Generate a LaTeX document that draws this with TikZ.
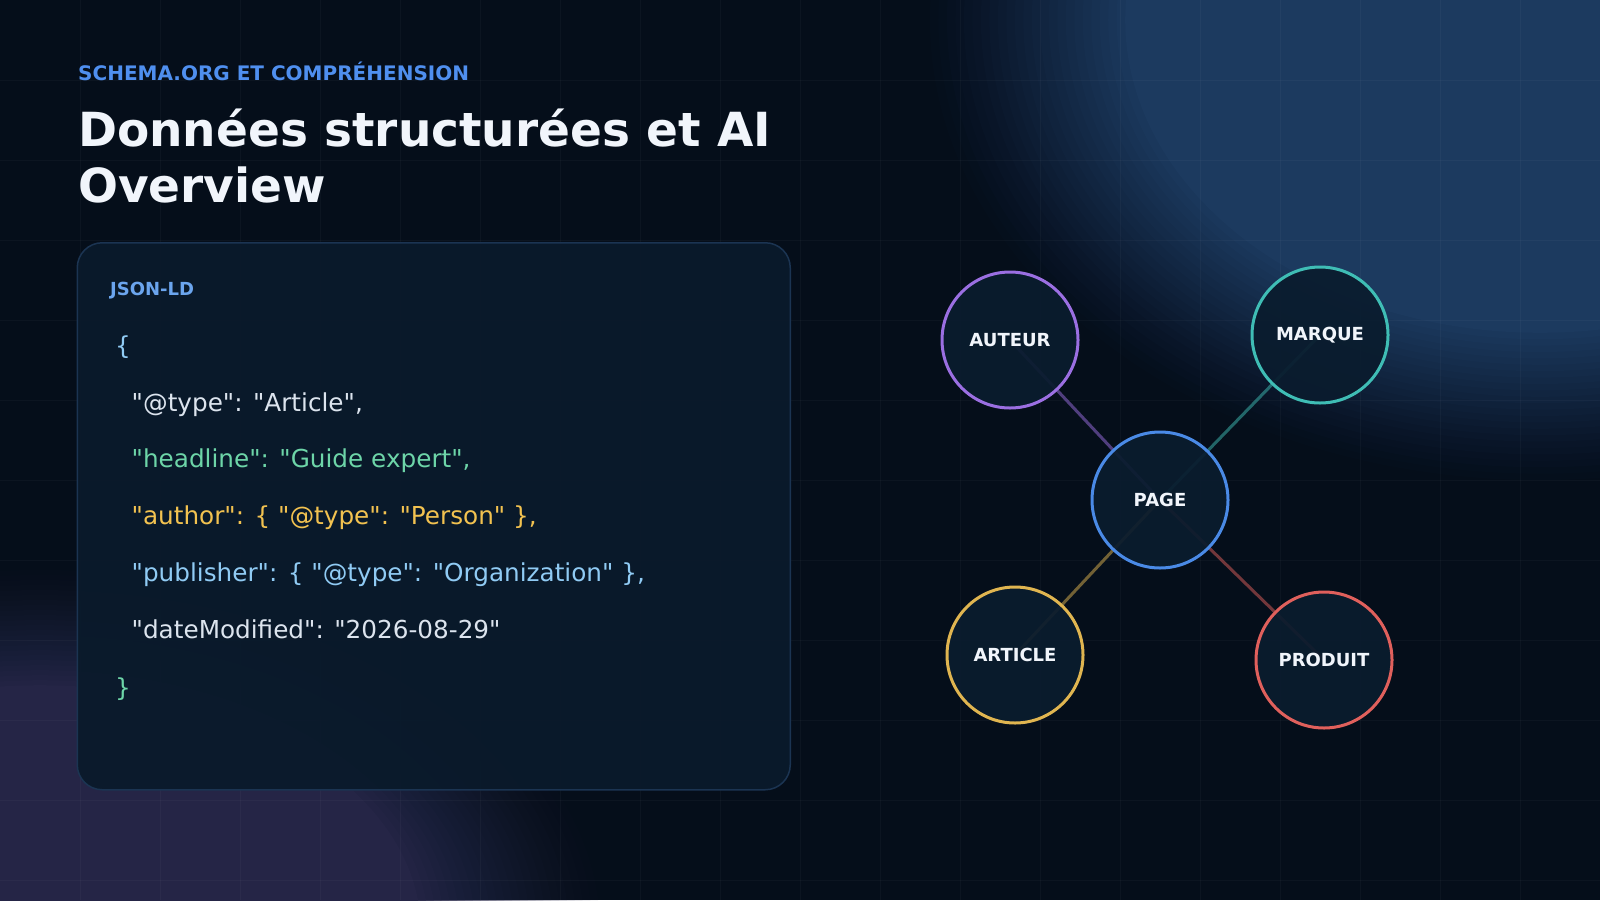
\documentclass[tikz,border=0pt]{standalone}
\usepackage{fontspec}
\setmainfont{DejaVu Sans}
\newfontfamily\codefont{DejaVu Sans}[Ligatures=TeXOff]
\usetikzlibrary{positioning}
\definecolor{bgnavy}{HTML}{050E1A}
\definecolor{glowblue}{HTML}{1C3A5F}
\definecolor{glowpurple}{HTML}{252546}
\definecolor{boxfill}{HTML}{0A1A2B}
\definecolor{boxline}{HTML}{1B3452}
\definecolor{kickercol}{HTML}{4F8FEF}
\definecolor{headtext}{HTML}{F1F5FB}
\definecolor{tagblue}{HTML}{6BA5EE}
\definecolor{codewhite}{HTML}{DCE4EE}
\definecolor{codegreen}{HTML}{6DD5A8}
\definecolor{codeyellow}{HTML}{F2C250}
\definecolor{codeblue}{HTML}{90CBF4}
\definecolor{nodefill}{HTML}{0A1C2E}
\definecolor{cAuteur}{HTML}{9B6FE2}
\definecolor{cMarque}{HTML}{3FBDB5}
\definecolor{cPage}{HTML}{4A8AE6}
\definecolor{cArticle}{HTML}{E0B550}
\definecolor{cProduit}{HTML}{E0605C}
\pgfdeclarelayer{backdrop}
\pgfdeclarelayer{links}
\pgfsetlayers{backdrop,links,main}

\begin{document}
\begin{tikzpicture}[x=1pt, y=-1pt,
  kicker/.style={anchor=base west, inner sep=0, text=kickercol, font=\bfseries\fontsize{20}{24}\selectfont},
  headline/.style={anchor=base west, inner sep=0, text=headtext, font=\bfseries\fontsize{47}{56}\selectfont},
  codebox/.style={draw=boxline, line width=1.5, fill=boxfill, fill opacity=0.95, rounded corners=25, anchor=north west, minimum width=713, minimum height=547, inner sep=0},
  codeln/.style={anchor=base west, inner sep=0, font=\codefont\fontsize{24.7}{29}\selectfont},
  entity/.style={circle, minimum size=136, inner sep=0, line width=3, fill=nodefill, fill opacity=0.93, text opacity=1, text=headtext, font=\bfseries\fontsize{18}{21}\selectfont},
  link/.style={line width=3, draw opacity=0.5}]
\useasboundingbox (0,0) rectangle (1600,900);
% backdrop: fond, halos, grille
\begin{pgfonlayer}{backdrop}
\fill[bgnavy] (0,0) rectangle (1600,900);
\foreach \k in {1,...,24} {
  \pgfmathsetmacro\op{1/(25-\k)}
  \pgfmathsetmacro\fr{1-0.32*(\k-1)/23}
  \fill[glowblue, opacity=\op] (1540,20) ellipse [x radius={610*\fr}, y radius={460*\fr}];
  \fill[glowpurple, opacity=\op] (40,930) ellipse [x radius={560*\fr}, y radius={360*\fr}];
}
\foreach \gx in {80,160,...,1520} \draw[white, line width=1, opacity=0.03] (\gx,0) -- (\gx,900);
\foreach \gy in {80,160,...,880} \draw[white, line width=1, opacity=0.03] (0,\gy) -- (1600,\gy);
\end{pgfonlayer}

\node[kicker] (kick) at (78,80.6) {SCHEMA.ORG ET COMPRÉHENSION};
\node[headline] (title1) at (78,146) {Données structurées et AI};
\node[headline] (title2) at (78,202.5) {Overview};

% bloc JSON-LD
\node[codebox] (code) at (76.5,242) {};
\node[anchor=base west, inner sep=0, text=tagblue, font=\bfseries\fontsize{18}{21}\selectfont] (tag) at (110,295) {JSON-LD};
\node[codeln, text=codeblue] (brOpen) at (115,354) {\{};
\node[codeln, text=codewhite] (lnType) at (131.5,411) {"@type": "Article",};
\node[codeln, text=codegreen] (lnHead) at (131.5,467.5) {"headline": "Guide expert",};
\node[codeln, text=codeyellow] (lnAuthor) at (131.5,524.5) {"author": \{ "@type": "Person" \},};
\node[codeln, text=codeblue] (lnPub) at (131.5,581.5) {"publisher": \{ "@type": "Organization" \},};
\node[codeln, text=codewhite] (lnDate) at (131.5,638.5) {"dateModified": "2026-08-29"};
\node[codeln, text=codegreen] (brClose) at (115,696) {\}};

% graphe des entités
\node[entity, draw=cPage] (page) at (1160,500) {PAGE};
\node[entity, draw=cAuteur] (auteur) at (1010,340) {AUTEUR};
\node[entity, draw=cMarque] (marque) at (1320,335) {MARQUE};
\node[entity, draw=cArticle] (article) at (1015,655) {ARTICLE};
\node[entity, draw=cProduit] (produit) at (1324,660) {PRODUIT};
\begin{pgfonlayer}{links}
\draw[link, cAuteur] (page.center) -- (auteur.center);
\draw[link, cMarque] (page.center) -- (marque.center);
\draw[link, cArticle] (page.center) -- (article.center);
\draw[link, cProduit] (page.center) -- (produit.center);
\end{pgfonlayer}
\end{tikzpicture}
\end{document}
